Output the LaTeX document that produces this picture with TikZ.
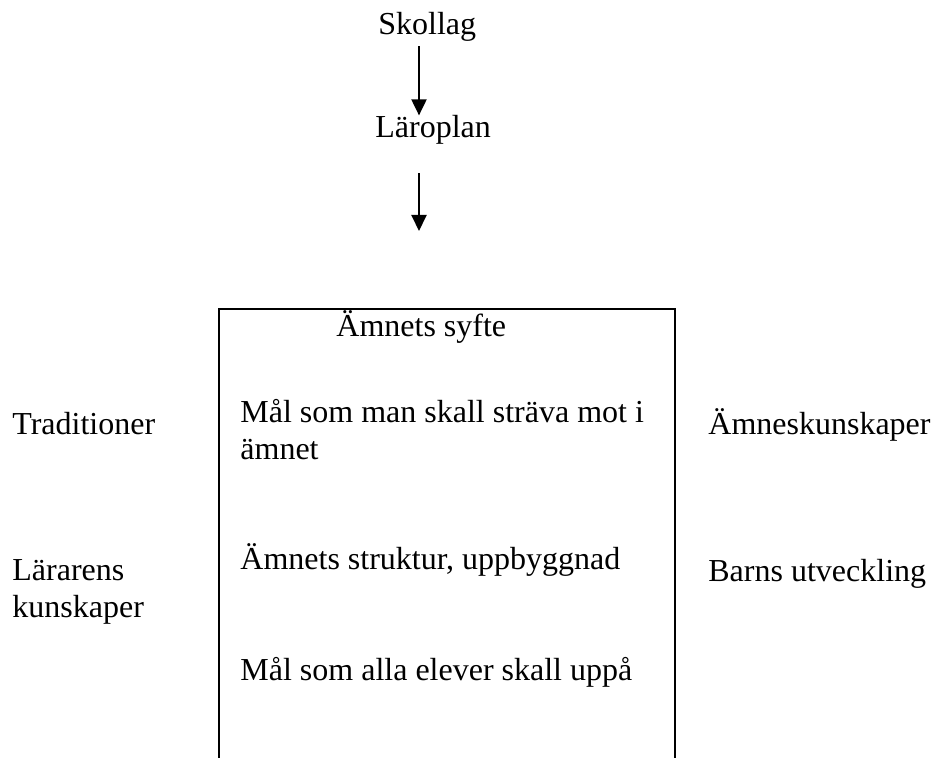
\documentclass[tikz,border=0pt]{standalone}
\usepackage{fontspec}
\setmainfont{Liberation Serif}
\usetikzlibrary{arrows.meta}

\tikzset{
 txt/.style={anchor=base west,inner sep=0pt,align=left,font=\fontsize{16}{18.5}\selectfont},
 pil/.style={line width=1pt,-{Triangle[width=7.5pt,length=8pt]}}
}

\begin{document}
\begin{tikzpicture}[x=0.5pt,y=-0.5pt]
 \useasboundingbox (0,0) rectangle (933,758); %画面
 \coordinate (ax) at (419,0); %矢印のx
 \coordinate (pilslut) at (419,231); %矢印の先
 \coordinate (BL) at (219,758); %箱の左下
 \coordinate (TL) at (219,309); %箱の左上
 \coordinate (TR) at (675,309); %箱の右上
 \coordinate (BR) at (675,758); %箱の右下

 \node[txt] (skollag) at (378,35) {Skollag};
 \node[txt] (laroplan) at (375,138) {Läroplan};
 \draw[pil,shorten <=2pt] (skollag.south -| ax) -- (laroplan.north -| ax); %矢印1
 \draw[pil,shorten <=14pt] (laroplan.south -| ax) -- (pilslut); %矢印2

 \draw[line width=1pt] (BL)--(TL)--(TR)--(BR); %箱

 \node[txt] (syfte) at (336,337) {Ämnets syfte};
 \node[txt] (mal1) at (240,460) {Mål som man skall sträva mot i\\ämnet};
 \node[txt] (struktur) at (240,570) {Ämnets struktur, uppbyggnad};
 \node[txt] (mal2) at (240,681) {Mål som alla elever skall uppå};

 \node[txt] (trad) at (12,435) {Traditioner};
 \node[txt] (larare) at (12,618) {Lärarens\\kunskaper};
 \node[txt] (amnesk) at (708,435) {Ämneskunskaper};
 \node[txt] (barn) at (708,582) {Barns utveckling};
\end{tikzpicture}
\end{document}
